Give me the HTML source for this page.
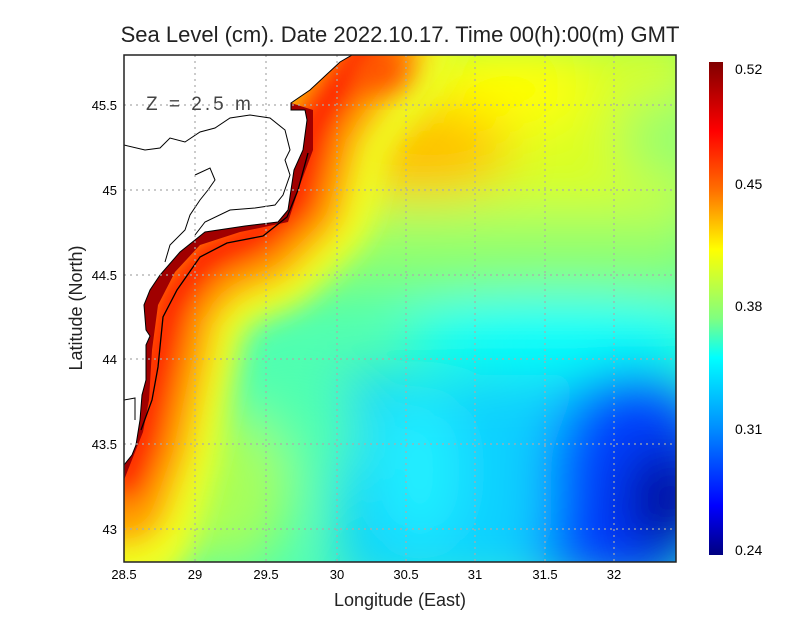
<!DOCTYPE html>
<html><head><style>
body{margin:0;background:#fff;}
svg text{font-family:"Liberation Sans",sans-serif;}
</style></head><body>
<svg width="800" height="618" xmlns="http://www.w3.org/2000/svg">
<defs>
<clipPath id="pc"><rect x="124" y="55" width="552" height="507"/></clipPath>
<filter id="b1" x="-50%" y="-50%" width="200%" height="200%"><feGaussianBlur stdDeviation="26"/></filter>
<filter id="b2" x="-50%" y="-50%" width="200%" height="200%"><feGaussianBlur stdDeviation="14"/></filter>
<linearGradient id="cb" x1="0" y1="0" x2="0" y2="1">
<stop offset="0" stop-color="#800000"/>
<stop offset="0.14" stop-color="#ff0000"/>
<stop offset="0.26" stop-color="#ff7000"/>
<stop offset="0.38" stop-color="#ffff00"/>
<stop offset="0.52" stop-color="#80ff80"/>
<stop offset="0.6" stop-color="#00ffff"/>
<stop offset="0.74" stop-color="#0090ff"/>
<stop offset="0.9" stop-color="#0000ff"/>
<stop offset="1" stop-color="#000080"/>
</linearGradient>
</defs>
<text x="400" y="42" text-anchor="middle" font-size="22" fill="#222">Sea Level (cm). Date 2022.10.17. Time 00(h):00(m) GMT</text>
<g clip-path="url(#pc)">
<rect x="124" y="55" width="552" height="507" fill="#50ffb0"/>
<g filter="url(#b1)">
<rect x="124" y="30" width="580" height="185" fill="#d8ff28"/>
<rect x="124" y="215" width="580" height="75" fill="#90ff70"/>
<ellipse cx="660" cy="140" rx="35" ry="45" fill="#90ff70"/>
<ellipse cx="510" cy="90" rx="80" ry="45" fill="#ffff00"/>
<ellipse cx="420" cy="150" rx="90" ry="45" fill="#ffc000"/>
<ellipse cx="560" cy="335" rx="160" ry="35" fill="#00ffff"/>
<rect x="340" y="375" width="360" height="210" fill="#10d0ff"/>
<ellipse cx="420" cy="470" rx="40" ry="80" fill="#20f0ff"/>
<ellipse cx="635" cy="480" rx="85" ry="110" fill="#0040ff"/>
<ellipse cx="665" cy="500" rx="40" ry="55" fill="#000098"/>
<ellipse cx="580" cy="550" rx="40" ry="30" fill="#0030ff"/>
<ellipse cx="300" cy="430" rx="60" ry="60" fill="#50ffb0"/>
<ellipse cx="225" cy="490" rx="65" ry="80" fill="#a8ff58"/>
</g>
<g filter="url(#b2)" fill="none" stroke-linecap="round" stroke-linejoin="round">
<path d="M380 40 L320 120 L300 200 L260 240 L210 260 L175 300 L160 370 L145 440 L124 520" stroke="#f0ff20" stroke-width="150"/>
<path d="M380 40 L320 120 L300 200 L260 240 L210 260 L175 300 L160 370 L145 440 L124 500" stroke="#ffa000" stroke-width="90"/>
<path d="M370 40 L315 120 L295 200 L255 235 L205 255 L170 300 L155 370 L140 440 L124 480" stroke="#ff1000" stroke-width="45"/>
</g>
<ellipse cx="380" cy="70" rx="30" ry="20" fill="#ff5000" filter="url(#b2)"/>
<path d="M290 103 L340 60 L352 55 L300 55 Z M291 103 L313 110 L313 150 L300 185 L288 222 L240 232 L200 245 L175 272 L158 305 L152 350 L149 400 L143 432 L124 480 L124 55 Z" fill="#a00000"/>
<polyline points="308,153 298,190 287,217 263,236 227,243 200,257 177,290 163,317 158,367 152,400 141,430" fill="none" stroke="#000" stroke-width="1.3"/>
<path d="M124 55 L352 55 L340 62 L310 90 L291 103 L291 110 L305 110 L307 120 L303 150 L294 170 L288 210 L278 222 L245 226 L205 232 L180 252 L160 275 L150 290 L144 305 L146 330 L150 336 L146 345 L146 380 L142 395 L140 420 L136 445 L132 455 L124 465 Z" fill="#fff" stroke="#000" stroke-width="1"/>
<path d="M124 145 L145 150 L160 148 L170 138 L185 142 L200 132 L215 128 L230 118 L250 115 L270 118 L285 130 L290 150 L285 160 L290 175 L283 195 L275 205 L255 208 L230 210 L205 222 L195 235" fill="none" stroke="#000" stroke-width="1"/>
<path d="M195 175 L210 168 L215 180 L208 190 L200 200 L190 215 L185 230 L170 245 L165 262" fill="none" stroke="#000" stroke-width="1"/>
<path d="M124 400 L135 398 L135 420" fill="none" stroke="#000" stroke-width="1"/>
<g stroke="#aaa" stroke-width="1.2" stroke-dasharray="2,4">
<line x1="195" y1="55" x2="195" y2="562"/><line x1="266" y1="55" x2="266" y2="562"/><line x1="337" y1="55" x2="337" y2="562"/><line x1="406" y1="55" x2="406" y2="562"/><line x1="475" y1="55" x2="475" y2="562"/><line x1="545" y1="55" x2="545" y2="562"/><line x1="614" y1="55" x2="614" y2="562"/>
<line x1="124" y1="105" x2="676" y2="105"/><line x1="124" y1="190" x2="676" y2="190"/><line x1="124" y1="275" x2="676" y2="275"/><line x1="124" y1="359" x2="676" y2="359"/><line x1="124" y1="444" x2="676" y2="444"/><line x1="124" y1="529" x2="676" y2="529"/>
</g>
<text x="146" y="110" font-size="19" fill="#444" letter-spacing="3">Z = 2.5 m</text>
</g>
<rect x="124" y="55" width="552" height="507" fill="none" stroke="#222" stroke-width="1.5"/>
<g font-size="13" fill="#000" text-anchor="middle">
<text x="124" y="579">28.5</text><text x="195" y="579">29</text><text x="266" y="579">29.5</text><text x="337" y="579">30</text><text x="406" y="579">30.5</text><text x="475" y="579">31</text><text x="545" y="579">31.5</text><text x="614" y="579">32</text>
</g>
<g font-size="13" fill="#000" text-anchor="end">
<text x="117" y="110">45.5</text><text x="117" y="195">45</text><text x="117" y="280">44.5</text><text x="117" y="364">44</text><text x="117" y="449">43.5</text><text x="117" y="534">43</text>
</g>
<text x="400" y="606" text-anchor="middle" font-size="18" fill="#222">Longitude (East)</text>
<text transform="translate(82,308) rotate(-90)" text-anchor="middle" font-size="18" fill="#222">Latitude (North)</text>
<rect x="709" y="62" width="14" height="493" fill="url(#cb)"/>
<g font-size="14" fill="#000">
<text x="735" y="74">0.52</text><text x="735" y="189">0.45</text><text x="735" y="311">0.38</text><text x="735" y="434">0.31</text><text x="735" y="555">0.24</text>
</g>
</svg>
</body></html>
